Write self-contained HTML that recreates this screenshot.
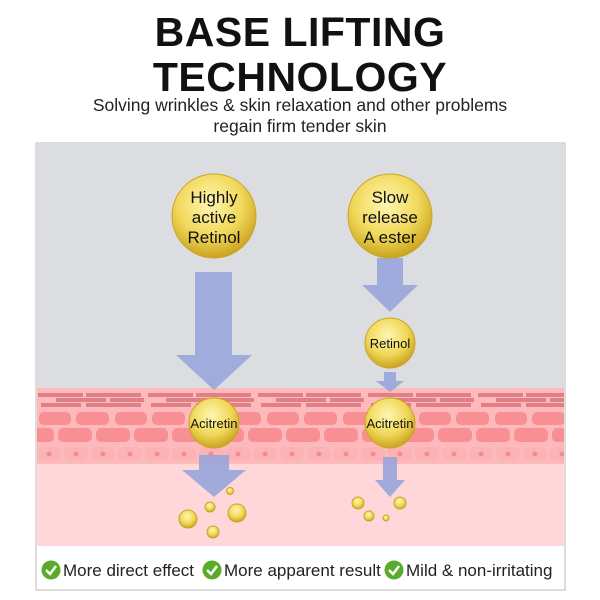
<!DOCTYPE html>
<html><head><style>
body{margin:0;width:600px;height:600px;background:#fff;font-family:"Liberation Sans",sans-serif;overflow:hidden;position:relative}
.t{position:absolute;left:0;width:600px;text-align:center;color:#111}
</style></head><body>
<div class="t" style="top:10px;font-size:41px;font-weight:900;line-height:45px;letter-spacing:0.5px">BASE LIFTING<br>TECHNOLOGY</div>
<div class="t" style="top:95px;font-size:17.5px;line-height:21px;color:#222">Solving wrinkles &amp; skin relaxation and other problems<br>regain firm tender skin</div>
<svg style="position:absolute;left:0;top:0" width="600" height="600">
<defs>
<radialGradient id="g" cx="0.45" cy="0.35" r="0.65"><stop offset="0" stop-color="#fff6b0"/><stop offset="0.6" stop-color="#f1d85a"/><stop offset="1" stop-color="#c9a420"/></radialGradient>
<pattern id="br" x="36" y="392" width="110" height="16" patternUnits="userSpaceOnUse">
<rect x="2" y="1" width="45" height="4" fill="#e07f84"/><rect x="50" y="1" width="55" height="4" fill="#e07f84"/>
<rect x="20" y="6" width="50" height="4" fill="#e07f84"/><rect x="74" y="6" width="34" height="4" fill="#e07f84"/>
<rect x="5" y="11" width="40" height="4" fill="#e07f84"/><rect x="50" y="11" width="55" height="4" fill="#e07f84"/>
</pattern>
<pattern id="ce" x="36" y="410" width="76" height="34" patternUnits="userSpaceOnUse">
<rect x="3" y="2" width="32" height="13" rx="5" fill="#f88f93"/><rect x="40" y="2" width="33" height="13" rx="5" fill="#f88f93"/>
<rect x="-14" y="18" width="32" height="14" rx="5" fill="#f88f93"/><rect x="22" y="18" width="34" height="14" rx="5" fill="#f88f93"/><rect x="60" y="18" width="32" height="14" rx="5" fill="#f88f93"/>
</pattern>
<pattern id="dc" x="36" y="446" width="27" height="16" patternUnits="userSpaceOnUse">
<rect x="1" y="1" width="24" height="14" rx="6" fill="#fcb3b6"/><circle cx="13" cy="8" r="2.5" fill="#f58a90"/>
</pattern>
</defs>
<rect x="36" y="143" width="529" height="447" fill="#fff" stroke="#bbb"/>
<rect x="37" y="144" width="527" height="246" fill="#dcdde0"/>
<rect x="37" y="388" width="527" height="158" fill="#ffd6d9"/>
<rect x="37" y="388" width="527" height="76" fill="#fdb9bc"/>
<rect x="37" y="392" width="527" height="16" fill="url(#br)"/>
<rect x="37" y="410" width="527" height="34" fill="url(#ce)"/>
<rect x="37" y="446" width="527" height="16" fill="url(#dc)"/>
<g fill="#99a6dc" opacity="0.9">
<polygon points="195,272 232,272 232,355 252,355 214,390 176,355 195,355"/>
<polygon points="377,258 403,258 403,285 418,285 390,312 362,285 377,285"/>
<polygon points="384,372 396,372 396,381 404,381 390,392 376,381 384,381"/>
<polygon points="199,455 229,455 229,470 246,470 214,497 182,470 199,470"/>
<polygon points="383,457 397,457 397,480 405,480 390,497 375,480 383,480"/>
</g>
<g fill="url(#g)" stroke="#c9a526" stroke-width="1">
<circle cx="214" cy="216" r="42"/><circle cx="390" cy="216" r="42"/>
<circle cx="390" cy="343" r="25"/><circle cx="214" cy="423" r="25"/><circle cx="390" cy="423" r="25"/>
<circle cx="188" cy="519" r="9"/><circle cx="210" cy="507" r="5"/><circle cx="237" cy="513" r="9"/><circle cx="213" cy="532" r="6"/><circle cx="230" cy="491" r="3.5"/>
<circle cx="358" cy="503" r="6"/><circle cx="369" cy="516" r="5"/><circle cx="386" cy="518" r="3"/><circle cx="400" cy="503" r="6"/>
</g>
<g font-family="Liberation Sans" fill="#111" text-anchor="middle">
<text x="214" y="203" font-size="17">Highly</text><text x="214" y="223" font-size="17">active</text><text x="214" y="243" font-size="17">Retinol</text>
<text x="390" y="203" font-size="17">Slow</text><text x="390" y="223" font-size="17">release</text><text x="390" y="243" font-size="17">A ester</text>
<text x="390" y="348" font-size="13">Retinol</text>
<text x="214" y="428" font-size="13">Acitretin</text><text x="390" y="428" font-size="13">Acitretin</text>
</g>
<g>
<circle cx="51" cy="570" r="9.5" fill="#5aab2a"/><path d="M46,570 l4,4 l6,-8" stroke="#fff" stroke-width="2.5" fill="none"/>
<circle cx="212" cy="570" r="9.5" fill="#5aab2a"/><path d="M207,570 l4,4 l6,-8" stroke="#fff" stroke-width="2.5" fill="none"/>
<circle cx="394" cy="570" r="9.5" fill="#5aab2a"/><path d="M389,570 l4,4 l6,-8" stroke="#fff" stroke-width="2.5" fill="none"/>
</g>
<g font-family="Liberation Sans" font-size="17" fill="#222">
<text x="63" y="576">More direct effect</text>
<text x="224" y="576">More apparent result</text>
<text x="406" y="576">Mild &amp; non-irritating</text>
</g>
</svg>
</body></html>
